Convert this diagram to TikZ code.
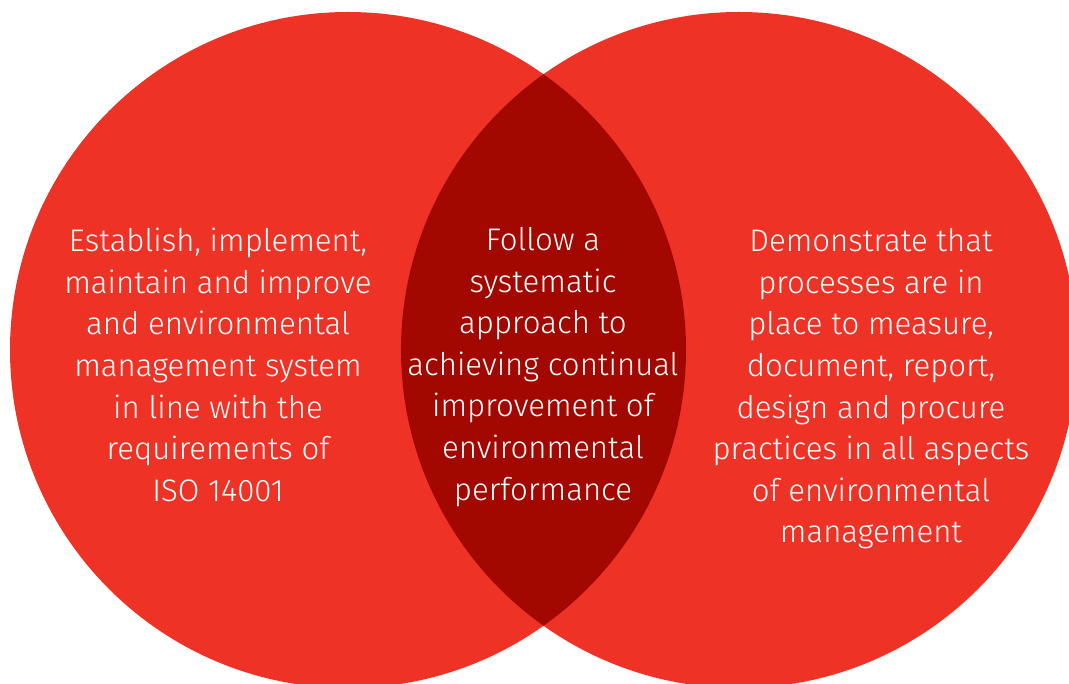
\documentclass[tikz,border=0pt]{standalone}
\usepackage{fontspec}
\setmainfont{Fira Sans Light}
\definecolor{isored}{RGB}{238, 50, 38}
\definecolor{isodark}{RGB}{163, 8, 0}
\usetikzlibrary{positioning}

\begin{document}
\begin{tikzpicture}[
  x=1pt, y=-1pt,
  ringtext/.style={align=center, text=white, inner sep=0pt, font=\fontsize{31.2}{41.6}\selectfont}
]
  \useasboundingbox (0, 0) rectangle (1069, 684);
  % The two circles
  \fill[isored] (348, 350) circle[radius=338];
  \fill[isored] (739, 350) circle[radius=338];
  % Overlap
  \begin{scope}
    \clip (348, 350) circle[radius=338];
    \fill[isodark] (739, 350) circle[radius=338];
  \end{scope}

  % Texts
  \node[ringtext] (aims) at (218, 365) {Establish, implement,\\maintain and improve\\and environmental\\management system\\in line with the\\requirements of\\ISO 14001};
  \node[ringtext] (approach) at (543, 367) {Follow a\\systematic\\approach to\\achieving continual\\improvement of\\environmental\\performance};
  \node[ringtext] (proof) at (871, 389) {Demonstrate that\\processes are in\\place to measure,\\document, report,\\design and procure\\practices in all aspects\\of environmental\\management};
\end{tikzpicture}
\end{document}
